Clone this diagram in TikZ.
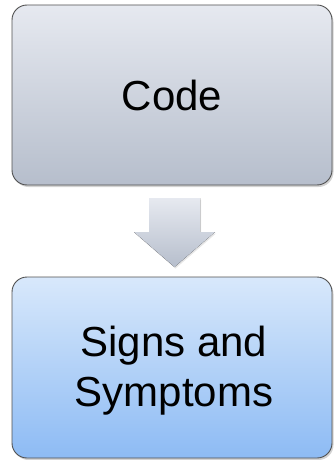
\documentclass[tikz,border=0pt]{standalone}
\usepackage{fontspec}
\setmainfont{Liberation Sans}
\usetikzlibrary{shadows,positioning}
\definecolor{greytop}{HTML}{E6E9F0}
\definecolor{greybot}{HTML}{B6BECC}
\definecolor{bluetop}{HTML}{D8E8FB}
\definecolor{bluebot}{HTML}{8DBBF4}
\definecolor{edge}{HTML}{505050}
\begin{document}
\begin{tikzpicture}[x=1pt,y=-1pt,
  card/.style={draw=edge, line width=0.9pt, rounded corners=15pt,
    minimum width=320pt, inner sep=0pt, align=center,
    font=\fontsize{42}{50}\selectfont,
    drop shadow={shadow xshift=1.5pt, shadow yshift=-2pt, opacity=0.35}},
  greycard/.style={card, minimum height=180pt, top color=greytop, bottom color=greybot},
  bluecard/.style={card, minimum height=181pt, top color=bluetop, bottom color=bluebot}]
\useasboundingbox (0,0) rectangle (333,460);
\node[greycard] (code) at (172,95) {Code};
\node[bluecard] (signs) at (172,367.5) {};
\node[align=center, font=\fontsize{42}{50}\selectfont, inner sep=0pt]
  (signstext) at (174,371) {Signs and\\Symptoms};
% block arrow between the two cards
\fill[top color=greytop, bottom color=greybot,
  drop shadow={shadow xshift=1pt, shadow yshift=-1.5pt, opacity=0.2}]
  (149,198) -- (200,198) -- (200,232) -- (215,232) -- (174.5,267)
  -- (134,232) -- (149,232) -- cycle;
\end{tikzpicture}
\end{document}
